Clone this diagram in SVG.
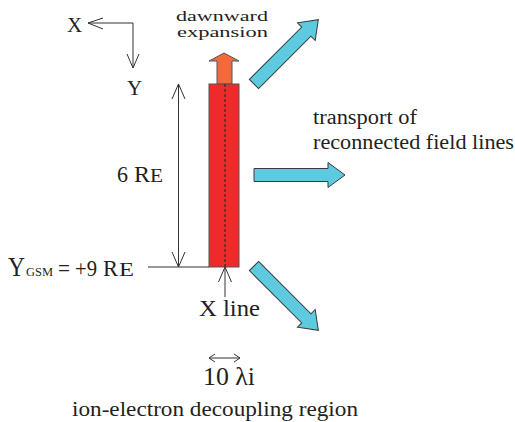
<svg xmlns="http://www.w3.org/2000/svg" width="515" height="422" viewBox="0 0 515 422" font-family="'Liberation Serif', 'DejaVu Serif', serif">
<style>
  text { font-family: "Liberation Serif", "DejaVu Serif", serif; fill: #231f20; }
  .ln { stroke: #333; stroke-width: 1; fill: none; }
  .blue { fill: #5ecae0; stroke: #3a3a3a; stroke-width: 1; }
</style>
<defs>
  <polygon id="bluearrow" class="blue" points="0,-6.5 74,-6.5 74,-12.5 91,0 74,12.5 74,6.5 0,6.5"/>
</defs>
<rect width="515" height="422" fill="#ffffff"/>

<g id="axes">
  <polyline class="ln" points="88,23 133,23 133,68"/>
  <polyline class="ln" points="103,18 88,23 103,29"/>
  <polyline class="ln" points="127,54 133,68 139,54"/>
  <text x="67" y="32" font-size="21">X</text>
  <text x="127" y="95" font-size="21">Y</text>
</g>

<g id="dawnward">
  <text x="176" y="21" font-size="15" textLength="92" lengthAdjust="spacingAndGlyphs">dawnward</text>
  <text x="177" y="37" font-size="15" textLength="91" lengthAdjust="spacingAndGlyphs">expansion</text>
  <polygon points="217,84 217,61 209,61 224,53 239,61 232,61 232,84" fill="#f26a3c" stroke="#555" stroke-width="1"/>
</g>

<g id="xline-region">
  <rect x="209" y="84" width="30" height="183" fill="#ee2a2b" stroke="#555" stroke-width="1"/>
  <line x1="225" y1="84" x2="225" y2="267" stroke="#222" stroke-width="1" stroke-dasharray="3,2"/>
</g>

<g id="connectors">
  <line class="ln" x1="178.5" y1="84" x2="178.5" y2="267"/>
  <polyline class="ln" points="172,99 178.5,84 185,99"/>
  <polyline class="ln" points="172,252 178.5,267 185,252"/>
  <line class="ln" x1="148" y1="267" x2="209" y2="267"/>
  <line class="ln" x1="225" y1="267" x2="225" y2="297"/>
  <polyline class="ln" points="218.5,282 225,267 231.5,282"/>
  <line class="ln" x1="209" y1="358" x2="240" y2="358"/>
  <polyline class="ln" points="215,354 209,358 215,362"/>
  <polyline class="ln" points="234,354 240,358 234,362"/>
</g>

<g id="flows">
  <use href="#bluearrow" transform="translate(254,84) rotate(-45)"/>
  <use href="#bluearrow" transform="translate(254,175)"/>
  <use href="#bluearrow" transform="translate(254,266) rotate(45)"/>
</g>

<g id="labels">
  <text x="313" y="124" font-size="20" textLength="104" lengthAdjust="spacingAndGlyphs">transport of</text>
  <text x="313" y="149" font-size="20" textLength="201" lengthAdjust="spacingAndGlyphs">reconnected field lines</text>
  <g id="label-6re">
    <text x="117" y="182" font-size="24" textLength="11" lengthAdjust="spacingAndGlyphs">6</text>
    <text x="134" y="182" font-size="24" textLength="16" lengthAdjust="spacingAndGlyphs">R</text>
    <text x="150" y="182" font-size="18" textLength="13" lengthAdjust="spacingAndGlyphs">E</text>
  </g>
  <g id="label-ygsm">
    <text x="8" y="276" font-size="28" textLength="17" lengthAdjust="spacingAndGlyphs">Y</text>
    <text x="26" y="276" font-size="13" textLength="27" lengthAdjust="spacingAndGlyphs">GSM</text>
    <text x="58" y="276" font-size="24" textLength="12" lengthAdjust="spacingAndGlyphs">=</text>
    <text x="75" y="276" font-size="24" textLength="22" lengthAdjust="spacingAndGlyphs">+9</text>
    <text x="103" y="276" font-size="24" textLength="15" lengthAdjust="spacingAndGlyphs">R</text>
    <text x="119" y="276" font-size="18" textLength="15" lengthAdjust="spacingAndGlyphs">E</text>
  </g>
  <text x="199" y="316" font-size="24" textLength="61" lengthAdjust="spacingAndGlyphs">X line</text>
  <text x="203" y="385" font-size="25" textLength="52" lengthAdjust="spacingAndGlyphs">10 λi</text>
  <text x="72" y="416" font-size="20" textLength="286" lengthAdjust="spacingAndGlyphs">ion-electron decoupling region</text>
</g>
</svg>
